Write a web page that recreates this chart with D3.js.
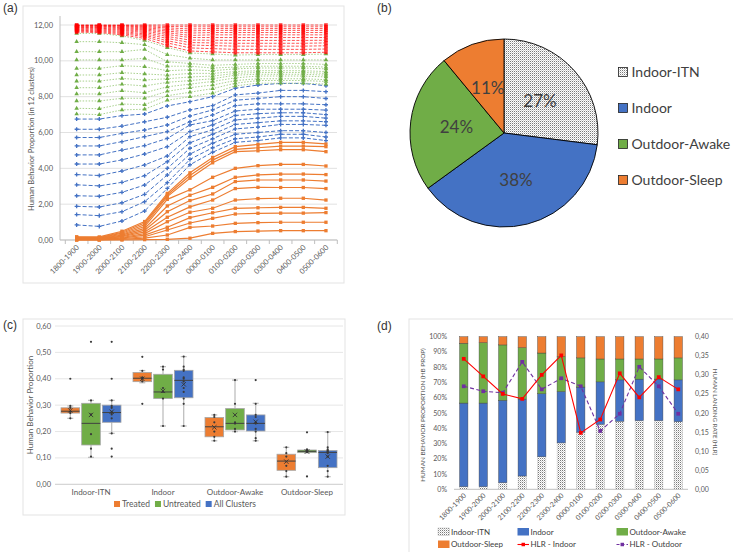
<!DOCTYPE html>
<html><head><meta charset="utf-8">
<script src="https://cdn.jsdelivr.net/npm/d3@7"></script>
<style>body{margin:0;background:#fff}svg{display:block}text{font-family:Lato,'Open Sans',sans-serif}</style>
</head><body><svg id="chart" width="733" height="552"></svg>
<script>
// ---------------- DATA ----------------
const hours = ["1800-1900","1900-2000","2000-2100","2100-2200","2200-2300","2300-2400","0000-0100","0100-0200","0200-0300","0300-0400","0400-0500","0500-0600"];
const categories = ["Indoor-ITN","Indoor","Outdoor-Awake","Outdoor-Sleep"];
const catColors = ["#D9D9D9","#4472C4","#70AD47","#ED7D31"];

// (a) cumulative stacked proportions over 12 clusters, one row per hour (clusters 1..12)
const itnCum = [
 [0,0.01,0.02,0.03,0.04,0.05,0.06,0.08,0.1,0.12,0.15,0.18],
 [0,0.01,0.02,0.03,0.04,0.05,0.06,0.08,0.1,0.12,0.14,0.17],
 [0,0.03,0.07,0.1,0.14,0.18,0.22,0.27,0.32,0.38,0.43,0.49],
 [0.02,0.1,0.18,0.27,0.36,0.45,0.55,0.65,0.75,0.85,0.95,1.03],
 [0.04,0.28,0.56,0.71,1.02,1.27,1.58,1.9,2.27,2.42,2.51,2.6],
 [0.1,0.7,0.95,1.25,1.55,1.85,2.2,2.5,2.8,3.45,3.6,3.75],
 [0.37,0.78,1.21,1.52,1.77,2.23,2.57,2.94,3.5,4.31,4.46,4.61],
 [0.47,0.93,1.45,1.77,2.23,2.87,3.26,3.5,4.0,4.93,5.06,5.21],
 [0.5,0.97,1.49,1.8,2.31,2.94,3.35,3.63,4.15,4.98,5.15,5.34],
 [0.52,0.99,1.5,1.82,2.33,2.93,3.35,3.68,4.22,5.04,5.24,5.45],
 [0.52,0.99,1.5,1.82,2.33,2.93,3.35,3.68,4.22,5.04,5.24,5.45],
 [0.52,0.99,1.53,1.77,2.23,2.87,3.29,3.65,4.13,4.93,5.21,5.36]
];
const indoorCum = [
 [0.84,1.42,1.88,2.47,3.08,3.65,4.24,4.75,5.25,5.72,6.18,6.75],
 [0.76,1.36,1.84,2.44,3.02,3.6,4.24,4.75,5.25,5.72,6.18,6.75],
 [1.06,1.58,2.08,2.66,3.22,3.85,4.47,5.02,5.49,5.95,6.36,6.94],
 [1.62,2.14,2.55,3.07,3.59,4.19,4.8,5.27,5.77,6.14,6.6,7.03],
 [2.88,3.2,3.63,4.0,4.37,4.69,5.21,5.67,6.05,6.42,6.85,7.48],
 [4.2,4.5,4.8,5.12,5.43,5.77,6.05,6.42,6.6,6.92,7.26,7.72],
 [4.9,5.15,5.4,5.65,5.9,6.15,6.42,6.66,6.98,7.26,7.5,8.0],
 [5.45,5.65,5.9,6.2,6.45,6.7,6.95,7.2,7.5,7.8,8.1,8.47],
 [5.55,5.75,6.0,6.3,6.55,6.8,7.05,7.3,7.6,7.9,8.2,8.65],
 [5.7,5.9,6.1,6.45,6.65,6.9,7.1,7.3,7.6,8.0,8.35,8.74],
 [5.7,5.9,6.1,6.45,6.65,6.9,7.1,7.3,7.6,8.0,8.35,8.74],
 [5.55,5.75,6.0,6.4,6.6,6.8,7.0,7.25,7.55,7.9,8.28,8.61]
];
const awakeCum = [
 [7.03,7.35,7.76,8.15,8.5,8.87,9.21,9.58,10.05,10.51,11.07,11.53],
 [7.0,7.33,7.76,8.15,8.5,8.87,9.21,9.58,10.05,10.51,11.07,11.53],
 [7.26,7.59,7.91,8.33,8.69,9.02,9.34,9.73,10.05,10.51,11.01,11.39],
 [7.3,7.55,7.91,8.22,8.6,8.93,9.27,9.67,10.14,10.64,10.9,11.14],
 [7.8,8.05,8.3,8.55,8.8,9.0,9.2,9.45,9.7,9.95,10.35,10.74],
 [8.0,8.25,8.5,8.7,8.9,9.1,9.3,9.5,9.7,9.85,10.15,10.44],
 [8.2,8.45,8.65,8.85,9.0,9.15,9.3,9.45,9.6,9.75,10.05,10.38],
 [8.6,8.75,8.9,9.05,9.2,9.3,9.4,9.55,9.65,9.8,10.05,10.32],
 [8.75,8.9,9.0,9.15,9.25,9.35,9.45,9.6,9.7,9.85,10.05,10.35],
 [8.75,8.9,9.0,9.15,9.25,9.35,9.45,9.6,9.7,9.85,10.05,10.35],
 [8.75,8.9,9.0,9.15,9.25,9.35,9.45,9.6,9.7,9.85,10.05,10.35],
 [8.7,8.85,8.95,9.1,9.2,9.3,9.4,9.55,9.65,9.8,10.05,10.38]
];
const sleepCum = [
 [11.6,11.65,11.7,11.74,11.78,11.82,11.86,11.9,11.93,11.96,11.98,12],
 [11.58,11.63,11.68,11.73,11.78,11.82,11.86,11.9,11.93,11.96,11.98,12],
 [11.45,11.52,11.58,11.64,11.7,11.75,11.8,11.85,11.9,11.94,11.97,12],
 [11.25,11.35,11.43,11.5,11.58,11.65,11.72,11.78,11.84,11.9,11.95,12],
 [10.85,11.0,11.12,11.25,11.36,11.47,11.57,11.66,11.75,11.84,11.92,12],
 [10.55,10.72,10.88,11.02,11.16,11.3,11.42,11.55,11.67,11.78,11.9,12],
 [10.5,10.68,10.85,11.0,11.15,11.3,11.45,11.58,11.7,11.8,11.9,12],
 [10.45,10.64,10.82,10.98,11.14,11.3,11.45,11.58,11.7,11.8,11.9,12],
 [10.45,10.64,10.82,10.98,11.14,11.3,11.45,11.58,11.7,11.8,11.9,12],
 [10.45,10.64,10.82,10.98,11.14,11.3,11.45,11.58,11.7,11.8,11.9,12],
 [10.45,10.64,10.82,10.98,11.14,11.3,11.45,11.58,11.7,11.8,11.9,12],
 [10.48,10.66,10.84,11.0,11.15,11.3,11.45,11.58,11.7,11.8,11.9,12]
];
const aTicks = [0,2,4,6,8,10,12];

// (b) pie
const pieValues = [27,38,24,11];

// (c) box plots: rows = Treated, Untreated, All Clusters; cols = categories
const boxGroups = ["Treated","Untreated","All Clusters"];
const boxColors = ["#ED7D31","#70AD47","#4472C4"];
const boxQ1   = [[0.270,0.389,0.180,0.053],[0.149,0.325,0.206,0.120],[0.235,0.328,0.202,0.063]];
const boxMed  = [[0.277,0.402,0.218,0.088],[0.231,0.350,0.231,0.125],[0.272,0.394,0.231,0.121]];
const boxQ3   = [[0.290,0.424,0.253,0.114],[0.307,0.417,0.287,0.130],[0.300,0.432,0.263,0.128]];
const boxMean = [[0.280,0.400,0.216,0.086],[0.263,0.354,0.263,0.124],[0.275,0.379,0.237,0.105]];
const boxLo   = [[0.250,0.385,0.165,0.029],[0.102,0.221,0.200,0.120],[0.193,0.221,0.165,0.029]];
const boxHi   = [[0.297,0.431,0.263,0.140],[0.318,0.446,0.395,0.130],[0.318,0.484,0.307,0.198]];
const boxPts  = [
 [[0.25,0.27,0.275,0.29,0.297,0.40],[0.305,0.39,0.40,0.405,0.43,0.483],[0.165,0.18,0.20,0.235,0.255,0.263],[0.029,0.05,0.07,0.105,0.118,0.14]],
 [[0.105,0.135,0.19,0.265,0.318,0.54],[0.221,0.325,0.35,0.365,0.435,0.446],[0.20,0.21,0.23,0.235,0.305,0.395],[0.03,0.122,0.125,0.128,0.132,0.197]],
 [[0.105,0.135,0.193,0.25,0.265,0.27,0.275,0.29,0.297,0.318,0.40,0.54],[0.221,0.305,0.325,0.35,0.365,0.39,0.40,0.405,0.43,0.435,0.446,0.484],[0.165,0.175,0.20,0.21,0.23,0.235,0.255,0.263,0.305,0.395],[0.029,0.05,0.07,0.105,0.118,0.122,0.125,0.128,0.132,0.14,0.198]]
];
const cTicks = [0,0.1,0.2,0.3,0.4,0.5,0.6];

// (d) stacked proportions (%) and HLR
const dITN    = [1.7,1.7,4.3,8.7,21.3,30.4,37.4,42.6,44.6,45.0,45.0,44.3];
const dIndoor = [54.8,54.8,54.0,50.4,41.3,33.7,29.6,27.8,27.1,27.2,27.2,27.4];
const dAwake  = [39.2,39.6,36.3,33.7,26.7,22.9,19.1,15.0,13.7,13.2,13.2,14.4];
const dSleep  = [4.3,3.9,5.4,7.2,10.7,13.0,13.9,14.6,14.6,14.6,14.6,13.9];
const hlrIndoor  = [0.342,0.296,0.250,0.237,0.300,0.351,0.148,0.183,0.304,0.241,0.294,0.262];
const hlrOutdoor = [0.270,0.257,0.253,0.334,0.262,0.291,0.270,0.153,0.198,0.321,0.270,0.198];
const dLeftTicks = [0,10,20,30,40,50,60,70,80,90,100];
const dRightTicks = [0,0.05,0.1,0.15,0.2,0.25,0.3,0.35,0.4];

// ---------------- RENDER ----------------
const svg = d3.select("#chart");
const fmt2 = d3.format(".2f");
const comma = v => fmt2(v).replace(".", ",");
const axisGrey = "#595959";

const defs = svg.append("defs");
const pat = defs.append("pattern").attr("id","itn").attr("patternUnits","userSpaceOnUse").attr("width",2).attr("height",2);
pat.append("rect").attr("width",2).attr("height",2).attr("fill","#fff");
pat.append("rect").attr("width",1).attr("height",1).attr("fill","#7a7a7a");
pat.append("rect").attr("x",1).attr("y",1).attr("width",1).attr("height",1).attr("fill","#d0d0d0");
const catFill = (i) => i === 0 ? "url(#itn)" : catColors[i];

// panel labels
[["(a)",3,12],["(b)",377,12],["(c)",3,329],["(d)",377,330]].forEach(([t,x,y]) =>
  svg.append("text").attr("x",x).attr("y",y).attr("font-size",12).attr("fill","#333").style("font-family","'Liberation Sans',Arial,sans-serif").text(t));

// ===== Panel (a) =====
{
  const g = svg.append("g");
  g.append("rect").attr("x",23).attr("y",6).attr("width",321).attr("height",277).attr("fill","none").attr("stroke","#e3e3e3");
  const x = d3.scaleBand().domain(hours).range([65.3,337.3]);
  const y = d3.scaleLinear().domain([0,12]).range([240,25]);
  const cx = h => x(h) + x.bandwidth()/2;
  g.selectAll(".grid").data(aTicks).join("line").attr("x1",60).attr("x2",337).attr("y1",d=>y(d)).attr("y2",d=>y(d)).attr("stroke","#d9d9d9").attr("stroke-width",0.8);
  g.append("line").attr("x1",60).attr("x2",60).attr("y1",16).attr("y2",240).attr("stroke","#bfbfbf");
  g.append("line").attr("x1",60).attr("x2",337.3).attr("y1",240).attr("y2",240).attr("stroke","#bfbfbf");
  const xb = hours.map(h => x(h)).concat([x.range()[1]]);
  g.selectAll(".tk").data(xb).join("line").attr("x1",d=>d).attr("x2",d=>d).attr("y1",240).attr("y2",244).attr("stroke","#bfbfbf");
  g.selectAll(".yl").data(aTicks).join("text").attr("x",53).attr("y",d=>y(d)+2.5).attr("text-anchor","end").attr("font-size",7.5).attr("fill",axisGrey).text(d=>comma(d));
  g.append("text").attr("transform","translate(34,139) rotate(-90)").attr("text-anchor","middle").attr("font-size",7.6).attr("fill",axisGrey).text("Human Behavior Proportion (in 12 clusters)");
  g.selectAll(".xl").data(hours).join("text").attr("transform",d=>`translate(${cx(d)+3},${248}) rotate(-45)`).attr("text-anchor","end").attr("font-size",7.5).attr("fill",axisGrey).text(d=>d);

  const series = [
    {cols:itnCum, color:"#ED7D31", mcolor:"#ED7D31", dash:null, w:1.2, sym:d3.symbolSquare, size:11, op:1},
    {cols:indoorCum, color:"#4472C4", mcolor:"#4472C4", dash:"4,2", w:1, sym:d3.symbolCross, size:9, op:1},
    {cols:awakeCum, color:"#A9D18E", mcolor:"#70AD47", dash:"1.5,1.5", w:1, sym:d3.symbolTriangle, size:9, op:1},
    {cols:sleepCum, color:"#FF0000", mcolor:"#FF0000", dash:"3,1.5", w:0.9, sym:d3.symbolSquare, size:13, op:0.75}
  ];
  series.forEach(s => {
    const lines = d3.transpose(s.cols);
    const lg = d3.line().x((v,i)=>cx(hours[i])).y(v=>y(v));
    lines.forEach(vals => {
      g.append("path").attr("d",lg(vals)).attr("fill","none").attr("stroke",s.color).attr("stroke-width",s.w).attr("stroke-dasharray",s.dash).attr("opacity",s.op);
      g.selectAll(null).data(vals).join("path").attr("d",d3.symbol(s.sym,s.size)).attr("transform",(v,i)=>`translate(${cx(hours[i])},${y(v)})`).attr("fill",s.mcolor).attr("opacity",s.op);
    });
  });
}

// ===== Panel (b) =====
{
  const g = svg.append("g").attr("transform","translate(504,133)");
  const pie = d3.pie().sort(null).value(d=>d)(pieValues);
  const arc = d3.arc().innerRadius(0).outerRadius(94);
  const lab = d3.arc().innerRadius(48).outerRadius(48);
  g.selectAll("path").data(pie).join("path").attr("d",arc).attr("fill",(d,i)=>catFill(i)).attr("stroke","#000").attr("stroke-width",0.9);
  g.selectAll("text").data(pie).join("text").attr("transform",d=>`translate(${lab.centroid(d)})`).attr("text-anchor","middle").attr("dy","0.36em").attr("font-size",17).attr("fill","#404040").text(d=>d.value+"%");
  const lgd = svg.append("g");
  categories.forEach((c,i) => {
    const yy = 72 + i*36;
    lgd.append("rect").attr("x",618.5).attr("y",yy-4.5).attr("width",9).attr("height",9).attr("fill",catFill(i)).attr("stroke","#222").attr("stroke-width",0.8);
    lgd.append("text").attr("x",631.5).attr("y",yy).attr("dy","0.36em").attr("font-size",14).attr("fill","#404040").text(c);
  });
}

// ===== Panel (c) =====
{
  const g = svg.append("g");
  g.append("rect").attr("x",23).attr("y",319).attr("width",322).attr("height",196).attr("fill","none").attr("stroke","#e3e3e3");
  const x = d3.scaleBand().domain(categories).range([55,343]);
  const y = d3.scaleLinear().domain([0,0.6]).range([484.3,326]);
  g.selectAll(".grid").data(cTicks).join("line").attr("x1",55).attr("x2",343).attr("y1",d=>y(d)).attr("y2",d=>y(d)).attr("stroke",d=>d===0?"#bfbfbf":"#e0e0e0").attr("stroke-width",0.8);
  g.selectAll(".yl").data(cTicks).join("text").attr("x",51).attr("y",d=>y(d)+2.5).attr("text-anchor","end").attr("font-size",7.5).attr("fill",axisGrey).text(d=>comma(d));
  g.append("text").attr("transform","translate(33,405) rotate(-90)").attr("text-anchor","middle").attr("font-size",8).attr("fill",axisGrey).text("Human Behavior Proportion");
  g.selectAll(".xl").data(categories).join("text").attr("x",d=>x(d)+x.bandwidth()/2).attr("y",495).attr("text-anchor","middle").attr("font-size",8).attr("fill",axisGrey).text(d=>d);
  const off = d3.scaleBand().domain(boxGroups).range([-30,30]).paddingInner(0.1);
  const bw = off.bandwidth();
  boxGroups.forEach((grp,gi) => {
    categories.forEach((cat,ci) => {
      const x0 = x(cat) + x.bandwidth()/2 + off(grp);
      const xm = x0 + bw/2;
      g.append("line").attr("x1",xm).attr("x2",xm).attr("y1",y(boxHi[gi][ci])).attr("y2",y(boxQ3[gi][ci])).attr("stroke","#bfbfbf").attr("stroke-width",1.3);
      g.append("line").attr("x1",xm).attr("x2",xm).attr("y1",y(boxLo[gi][ci])).attr("y2",y(boxQ1[gi][ci])).attr("stroke","#bfbfbf").attr("stroke-width",1.3);
      [boxHi[gi][ci],boxLo[gi][ci]].forEach(v => g.append("line").attr("x1",xm-3).attr("x2",xm+3).attr("y1",y(v)).attr("y2",y(v)).attr("stroke","#bfbfbf").attr("stroke-width",1.3));
      g.append("rect").attr("x",x0).attr("y",y(boxQ3[gi][ci])).attr("width",bw).attr("height",Math.max(1,y(boxQ1[gi][ci])-y(boxQ3[gi][ci]))).attr("fill",boxColors[gi]).attr("stroke","#a6a6a6").attr("stroke-width",0.8);
      g.append("line").attr("x1",x0).attr("x2",x0+bw).attr("y1",y(boxMed[gi][ci])).attr("y2",y(boxMed[gi][ci])).attr("stroke","#404040").attr("stroke-width",1);
      g.selectAll(null).data(boxPts[gi][ci]).join("circle").attr("cx",xm).attr("cy",v=>y(v)).attr("r",1.1).attr("fill","#3a3a3a");
      g.append("path").attr("d",d3.symbol(d3.symbolX,14)).attr("transform",`translate(${xm},${y(boxMean[gi][ci])})`).attr("fill","none").attr("stroke","#333").attr("stroke-width",0.9);
    });
  });
  const lg = g.append("g");
  let lx = 0;
  boxGroups.forEach((grp,i) => {
    const it = lg.append("g").attr("transform",`translate(${lx},0)`);
    it.append("rect").attr("x",0).attr("y",-6).attr("width",6).attr("height",6).attr("fill",boxColors[i]);
    const t = it.append("text").attr("x",8).attr("y",0).attr("font-size",8.5).attr("fill",axisGrey).text(grp);
    lx += 8 + t.node().getComputedTextLength() + 5;
  });
  lg.attr("transform",`translate(${185 - (lx-5)/2},507)`);
}

// ===== Panel (d) =====
{
  const g = svg.append("g");
  g.append("rect").attr("x",409).attr("y",319).attr("width",330).attr("height",240).attr("fill","none").attr("stroke","#e3e3e3");
  const x = d3.scaleBand().domain(hours).range([454,688]).paddingInner(0.57).paddingOuter(0.285);
  const y = d3.scaleLinear().domain([0,100]).range([489.3,336.7]);
  const yr = d3.scaleLinear().domain([0,0.4]).range([489.3,336.7]);
  const cx = h => x(h) + x.bandwidth()/2;
  g.append("line").attr("x1",454).attr("x2",688).attr("y1",489.3).attr("y2",489.3).attr("stroke","#bfbfbf");
  g.selectAll(".yl").data(dLeftTicks).join("text").attr("x",447).attr("y",d=>y(d)+2.5).attr("text-anchor","end").attr("font-size",7).attr("fill",axisGrey).text(d=>d+"%");
  g.selectAll(".yr").data(dRightTicks).join("text").attr("x",695).attr("y",d=>yr(d)+2.5).attr("text-anchor","start").attr("font-size",7).attr("fill",axisGrey).text(d=>comma(d));
  g.append("text").attr("transform","translate(425,415) rotate(-90)").attr("text-anchor","middle").attr("font-size",6.4).attr("fill",axisGrey).text("HUMAN BEHAVIOR PROPORTION (HB PROP)");
  g.append("text").attr("transform","translate(713,412) rotate(90)").attr("text-anchor","middle").attr("font-size",6.2).attr("fill",axisGrey).text("HUMAN  LANDING RATE (HLR)");
  g.selectAll(".xl").data(hours).join("text").attr("transform",d=>`translate(${cx(d)+3},496) rotate(-45)`).attr("text-anchor","end").attr("font-size",7).attr("fill",axisGrey).text(d=>d);
  const rows = hours.map((h,i)=>({h, "Indoor-ITN":dITN[i], "Indoor":dIndoor[i], "Outdoor-Awake":dAwake[i], "Outdoor-Sleep":dSleep[i]}));
  const stack = d3.stack().keys(categories)(rows);
  stack.forEach((s,si) => {
    g.selectAll(null).data(s).join("rect").attr("x",d=>x(d.data.h)).attr("width",x.bandwidth()).attr("y",d=>y(d[1])).attr("height",d=>y(d[0])-y(d[1])).attr("fill",catFill(si)).attr("stroke",si===0?"#bfbfbf":"#404040").attr("stroke-width",0.4);
  });
  const ln = d3.line().x((v,i)=>cx(hours[i])).y(v=>yr(v));
  g.append("path").attr("d",ln(hlrOutdoor)).attr("fill","none").attr("stroke","#7030A0").attr("stroke-width",1.1).attr("stroke-dasharray","4,2.5");
  g.selectAll(null).data(hlrOutdoor).join("path").attr("d",d3.symbol(d3.symbolSquare,14)).attr("transform",(v,i)=>`translate(${cx(hours[i])},${yr(v)})`).attr("fill","#7030A0");
  g.append("path").attr("d",ln(hlrIndoor)).attr("fill","none").attr("stroke","#FF0000").attr("stroke-width",1.1);
  g.selectAll(null).data(hlrIndoor).join("path").attr("d",d3.symbol(d3.symbolSquare,14)).attr("transform",(v,i)=>`translate(${cx(hours[i])},${yr(v)})`).attr("fill","#FF0000");
  const items = [
    {t:"Indoor-ITN", type:"box", f:catFill(0), x:438, y:532},
    {t:"Indoor", type:"box", f:catFill(1), x:517.5, y:532},
    {t:"Outdoor-Awake", type:"box", f:catFill(2), x:616.5, y:532},
    {t:"Outdoor-Sleep", type:"box", f:catFill(3), x:438, y:544.5},
    {t:"HLR - Indoor", type:"line", f:"#FF0000", dash:null, x:517.5, y:544.5},
    {t:"HLR - Outdoor", type:"line", f:"#7030A0", dash:"3,2", x:616.5, y:544.5}
  ];
  items.forEach(it => {
    if (it.type === "box") {
      g.append("rect").attr("x",it.x).attr("y",it.y-4).attr("width",11.5).attr("height",7.5).attr("fill",it.f).attr("stroke",it.f.startsWith("url")?"#bfbfbf":"none").attr("stroke-width",0.5);
    } else {
      g.append("line").attr("x1",it.x).attr("x2",it.x+11.5).attr("y1",it.y).attr("y2",it.y).attr("stroke",it.f).attr("stroke-width",1.1).attr("stroke-dasharray",it.dash);
      g.append("path").attr("d",d3.symbol(d3.symbolSquare,12)).attr("transform",`translate(${it.x+5.75},${it.y})`).attr("fill",it.f);
    }
    g.append("text").attr("x",it.x+13).attr("y",it.y).attr("dy","0.33em").attr("font-size",8).attr("fill","#404040").text(it.t);
  });
}
</script></body></html>
